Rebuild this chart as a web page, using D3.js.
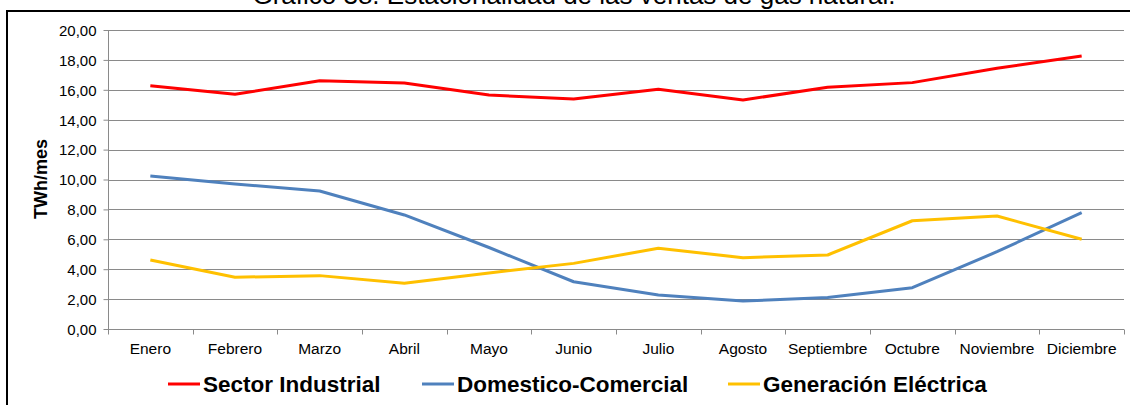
<!DOCTYPE html>
<html>
<head>
<meta charset="utf-8">
<script src="https://cdn.jsdelivr.net/npm/d3@7"></script>
<style>
  html, body { margin: 0; padding: 0; background: #fff; }
  svg { display: block; font-family: "Liberation Sans", Arial, sans-serif; }
</style>
</head>
<body>
<svg id="chart" width="1130" height="405"></svg>
<script>
// Monthly gas sales by segment (TWh/mes)
const months = ["Enero", "Febrero", "Marzo", "Abril", "Mayo", "Junio", "Julio",
                "Agosto", "Septiembre", "Octubre", "Noviembre", "Diciembre"];
const sectorIndustrial = [16.27, 15.70, 16.61, 16.46, 15.65, 15.38, 16.03, 15.32, 16.17, 16.48, 17.44, 18.26];
const domesticoComercial = [10.23, 9.70, 9.23, 7.63, 5.45, 3.16, 2.27, 1.87, 2.10, 2.76, 5.17, 7.78];
const generacionElectrica = [4.62, 3.46, 3.57, 3.06, 3.75, 4.39, 5.40, 4.77, 4.95, 7.24, 7.56, 6.00];
const yTicks = [0, 2, 4, 6, 8, 10, 12, 14, 16, 18, 20];

const seriesList = [
  { name: "Sector Industrial", values: sectorIndustrial, color: "#FF0000" },
  { name: "Domestico-Comercial", values: domesticoComercial, color: "#4F81BD" },
  { name: "Generación Eléctrica", values: generacionElectrica, color: "#FFC000" }
];

const svg = d3.select("#chart");
const plot = { left: 108, right: 1124, top: 30, bottom: 329 };

// Outer frame
svg.append("rect")
  .attr("x", 7).attr("y", 11)
  .attr("width", 1140).attr("height", 420)
  .attr("fill", "none").attr("stroke", "#000").attr("stroke-width", 2);

// Title
svg.append("text")
  .attr("x", 574).attr("y", 4)
  .attr("text-anchor", "middle")
  .attr("font-size", 26)
  .attr("fill", "#000")
  .text("Gráfico 38. Estacionalidad de las ventas de gas natural.");

const x = d3.scaleBand().domain(months).range([plot.left, plot.right]).padding(0);
const y = d3.scaleLinear().domain([0, 20]).range([plot.bottom, plot.top]);

// Horizontal gridlines
svg.append("g")
  .selectAll("line")
  .data(yTicks.filter(d => d > 0))
  .join("line")
  .attr("x1", plot.left).attr("x2", plot.right)
  .attr("y1", d => Math.round(y(d)) + 0.5).attr("y2", d => Math.round(y(d)) + 0.5)
  .attr("stroke", "#8a8a8a").attr("stroke-width", 1);

// Y axis
const fmt = d => d3.format(".2f")(d).replace(".", ",");
const yAxis = svg.append("g")
  .attr("transform", `translate(${plot.left + 0.5},0.5)`)
  .call(d3.axisLeft(y).tickValues(yTicks).tickFormat(fmt).tickSize(5).tickPadding(7));
yAxis.select(".domain").attr("stroke", "#8a8a8a").attr("d", `M0,${plot.top}V${plot.bottom}`);
yAxis.selectAll(".tick line").attr("stroke", "#8a8a8a").attr("transform", "translate(0,-0.5)");
yAxis.selectAll(".tick text").attr("font-size", 15).attr("fill", "#000")
  .attr("font-family", "'Liberation Sans', Arial, sans-serif");

// X axis with ticks at band boundaries
const xAxisG = svg.append("g").attr("transform", `translate(0,${Math.round(plot.bottom) + 0.5})`);
xAxisG.append("line")
  .attr("x1", plot.left).attr("x2", plot.right)
  .attr("stroke", "#8a8a8a");
xAxisG.selectAll("line.tk")
  .data(d3.range(months.length + 1))
  .join("line").attr("class", "tk")
  .attr("x1", i => Math.round(plot.left + i * x.bandwidth()) + 0.5)
  .attr("x2", i => Math.round(plot.left + i * x.bandwidth()) + 0.5)
  .attr("y1", 0).attr("y2", 5)
  .attr("stroke", "#8a8a8a");
xAxisG.selectAll("text")
  .data(months)
  .join("text")
  .attr("x", d => x(d) + x.bandwidth() / 2)
  .attr("y", 24)
  .attr("text-anchor", "middle")
  .attr("font-size", 15.5)
  .attr("fill", "#000")
  .text(d => d);

// Y axis title
svg.append("text")
  .attr("transform", "translate(47,179) rotate(-90)")
  .attr("text-anchor", "middle")
  .attr("font-size", 18)
  .attr("font-weight", "bold")
  .attr("fill", "#000")
  .text("TWh/mes");

// Series lines
const line = d3.line()
  .x((d, i) => x(months[i]) + x.bandwidth() / 2)
  .y(d => y(d));

svg.append("g")
  .selectAll("path")
  .data(seriesList)
  .join("path")
  .attr("d", s => line(s.values))
  .attr("fill", "none")
  .attr("stroke", s => s.color)
  .attr("stroke-width", 3)
  .attr("stroke-linejoin", "round");

// Legend
const legendPos = [168, 422, 728];
const legend = svg.append("g");
seriesList.forEach((s, i) => {
  const g = legend.append("g").attr("transform", `translate(${legendPos[i]},384)`);
  g.append("line").attr("x1", 0).attr("x2", 32).attr("y1", 0).attr("y2", 0)
    .attr("stroke", s.color).attr("stroke-width", 3);
  g.append("text").attr("x", 35).attr("y", 7.5)
    .attr("font-size", 22.5).attr("font-weight", "bold").attr("fill", "#000")
    .text(s.name);
});
</script>
</body>
</html>
